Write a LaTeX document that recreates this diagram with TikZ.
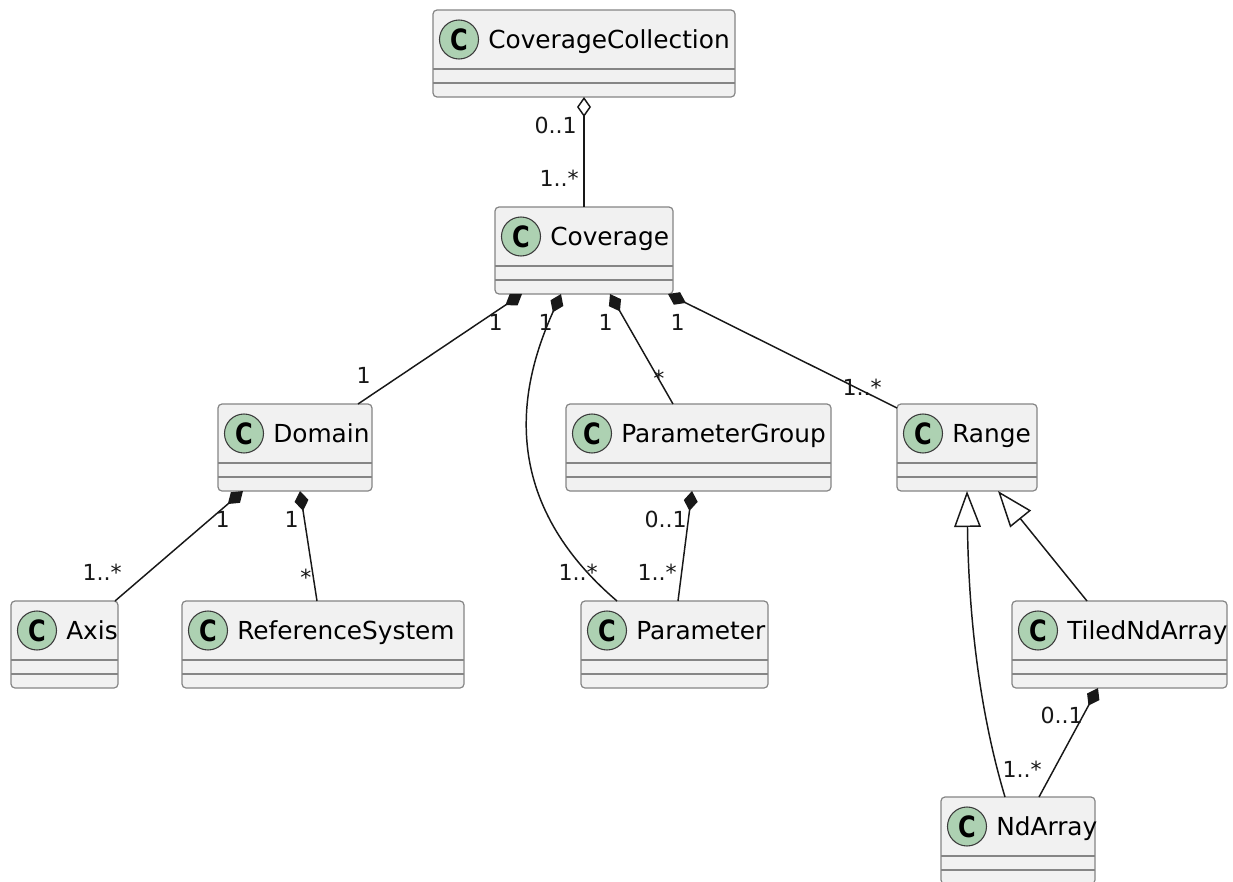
\documentclass[tikz,border=0pt]{standalone}
\usepackage{fontspec}
\usepackage{graphicx}
\setmainfont{DejaVu Sans}
\usetikzlibrary{arrows.meta,calc}
\definecolor{boxfill}{HTML}{F1F1F1}
\definecolor{boxline}{HTML}{858585}
\definecolor{circfill}{HTML}{ADD1B2}
\definecolor{lk}{HTML}{181818}
\newcommand{\cglyph}{\scalebox{0.82}[1]{\fontsize{22}{22}\selectfont\bfseries C}}
\tikzset{
  classbox/.style={draw=boxline, fill=boxfill, rounded corners=3pt, line width=0.9pt,
    minimum height=87*0.75pt, inner sep=0pt, outer sep=0pt, anchor=north west},
  sepline/.style={draw=boxline, line width=0.9pt},
  circ/.style={circle, draw=lk!85, fill=circfill, line width=0.8pt,
    minimum size=39*0.75pt, inner sep=0pt},
  cname/.style={font=\fontsize{18.6}{20}\selectfont, inner sep=0pt, text=black},
  lbl/.style={font=\fontsize{16.6}{18}\selectfont, inner sep=0pt, text=lk},
  link/.style={draw=lk, line width=1.1pt},
  comp/.style={link, {Diamond[length=15pt,width=10.5pt]}-},
  aggr/.style={link, {Diamond[open,length=15pt,width=10.5pt,fill=white]}-},
  inh/.style={link, {Triangle[open,length=27pt,width=20pt,fill=white]}-},
}
\newcommand{\umlclass}[5]{%
  \node[classbox, minimum width=#4*0.75pt] (#1) at (#2,#3) {};
  \draw[sepline] ($(#1.north west)+(0,59)$) -- ($(#1.north east)+(0,59)$);
  \draw[sepline] ($(#1.north west)+(0,73)$) -- ($(#1.north east)+(0,73)$);
  \node[circ] (#1-c) at ($(#1.north west)+(26,29.5)$) {\cglyph};
  \node[cname, anchor=base west] (#1-t) at ($(#1.north west)+(55,38)$) {#5};
}
\begin{document}
\begin{tikzpicture}[x=0.75pt,y=-0.75pt]
\useasboundingbox[fill=white] (0,0) rectangle (1233,882);
% classes
\umlclass{cc}{433}{10}{302}{CoverageCollection}
\umlclass{cov}{495}{207}{178}{Coverage}
\umlclass{dom}{218}{404}{154}{Domain}
\umlclass{pg}{566}{404}{265}{ParameterGroup}
\umlclass{rng}{897}{404}{140}{Range}
\umlclass{axis}{11}{601}{107}{Axis}
\umlclass{rs}{182}{601}{282}{ReferenceSystem}
\umlclass{par}{581}{601}{187}{Parameter}
\umlclass{tiled}{1012}{601}{215}{TiledNdArray}
\umlclass{nd}{941}{797}{154}{NdArray}
% CoverageCollection -- Coverage
\draw[aggr] ($(cc.south west)+(151,0)$) -- ($(cov.north west)+(89,0)$);
\node[lbl, anchor=base east] (l1a) at (577,133) {0..1};
\node[lbl, anchor=base east] (l1b) at (579,186) {1..*};
% Coverage -- Domain
\draw[comp] ($(cov.south west)+(27,0)$) -- ($(dom.north west)+(140,0)$);
\node[lbl, anchor=base east] (l2a) at (503,330) {1};
\node[lbl, anchor=base east] (l2b) at (371,383) {1};
% Coverage -- Parameter (curved)
\draw[comp] ($(cov.south west)+(66,0)$) .. controls (527,370) and (487,490) .. ($(par.north west)+(36,0)$);
\node[lbl, anchor=base east] (l3a) at (553,330) {1};
\node[lbl, anchor=base east] (l3b) at (598,580) {1..*};
% Coverage -- ParameterGroup
\draw[comp] ($(cov.south west)+(115,0)$) -- ($(pg.north west)+(107,0)$);
\node[lbl, anchor=base east] (l4a) at (613,330) {1};
\node[lbl, anchor=base] (l4b) at (659,386) {*};
% Coverage -- Range
\draw[comp] ($(cov.south west)+(173,0)$) -- ($(rng.north west)+(0,4)$);
\node[lbl, anchor=base east] (l5a) at (685,330) {1};
\node[lbl, anchor=base east] (l5b) at (882,395) {1..*};
% Domain -- Axis
\draw[comp] ($(dom.south west)+(25,0)$) -- ($(axis.north west)+(104,0)$);
\node[lbl, anchor=base east] (l6a) at (230,527) {1};
\node[lbl, anchor=base east] (l6b) at (122,580) {1..*};
% Domain -- ReferenceSystem
\draw[comp] ($(dom.south west)+(82,0)$) -- ($(rs.north west)+(135,0)$);
\node[lbl, anchor=base east] (l7a) at (299,527) {1};
\node[lbl, anchor=base] (l7b) at (306,585) {*};
% ParameterGroup -- Parameter
\draw[comp] ($(pg.south west)+(126,0)$) -- ($(par.north west)+(97,0)$);
\node[lbl, anchor=base east] (l8a) at (687,527) {0..1};
\node[lbl, anchor=base east] (l8b) at (677,580) {1..*};
% Range <|-- TiledNdArray
\draw[inh] ($(rng.south west)+(101,0)$) -- ($(tiled.north west)+(75,0)$);
% Range <|-- NdArray (curved)
\draw[inh] ($(rng.south west)+(70,0)$) .. controls (969,640) and (985,730) .. ($(nd.north west)+(64,0)$);
\node[lbl, anchor=base east] (l10) at (1042,777) {1..*};
% TiledNdArray -- NdArray
\draw[comp] ($(tiled.south west)+(86,0)$) -- ($(nd.north west)+(98,0)$);
\node[lbl, anchor=base east] (l11) at (1083,723) {0..1};
\end{tikzpicture}
\end{document}
